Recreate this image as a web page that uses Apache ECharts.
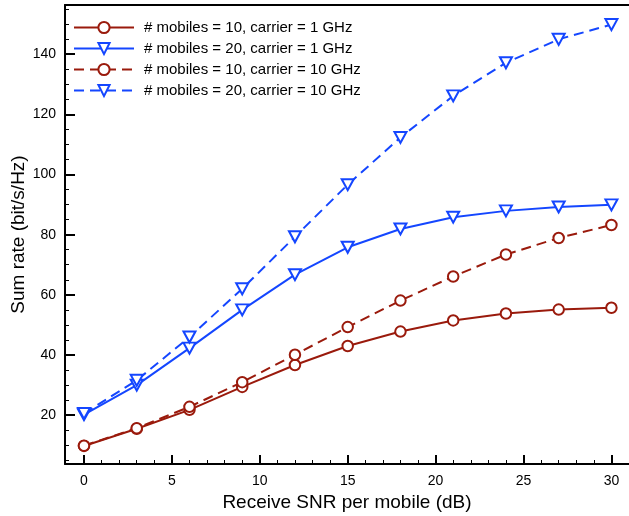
<!DOCTYPE html>
<html>
<head>
<meta charset="utf-8">
<script src="https://cdn.jsdelivr.net/npm/echarts@6/dist/echarts.min.js"></script>
<style>
html,body{margin:0;padding:0;background:#fff;}
#chart{width:629px;height:516px;}
</style>
</head>
<body>
<div id="chart"></div>
<script>
// ---- data ----
var snr = [0, 3, 6, 9, 12, 15, 18, 21, 24, 27, 30];
var rateM10_1GHz  = [9.8, 15.5, 21.8, 29.4, 36.7, 43.0, 47.8, 51.5, 53.8, 55.1, 55.7];
var rateM20_1GHz  = [20.2, 30.0, 42.3, 55.0, 66.7, 75.8, 81.9, 85.8, 87.9, 89.2, 89.9];
var rateM10_10GHz = [9.9, 15.7, 22.8, 31.0, 40.1, 49.3, 58.1, 66.1, 73.4, 78.9, 83.2];
var rateM20_10GHz = [20.6, 31.6, 46.0, 62.0, 79.3, 96.6, 112.3, 126.1, 137.1, 144.9, 149.8];
var seriesNames = [
  '# mobiles = 10, carrier = 1 GHz',
  '# mobiles = 20, carrier = 1 GHz',
  '# mobiles = 10, carrier = 10 GHz',
  '# mobiles = 20, carrier = 10 GHz'
];
var xTickLabels = [0, 5, 10, 15, 20, 25, 30];
var yTickLabels = [20, 40, 60, 80, 100, 120, 140];
var xMinorTicks = [1,2,3,4,6,7,8,9,11,12,13,14,16,17,18,19,21,22,23,24,26,27,28,29];
var yMinorTicks = [5,10,15,25,30,35,45,50,55,65,70,75,85,90,95,105,110,115,125,130,135,145,150,155];

var RED = '#9a1a0c', BLUE = '#1446ff';
var FONT = '"Liberation Sans", Arial, Helvetica, sans-serif';
var X_MIN = -1.08, X_MAX = 31, Y_MIN = 3.8, Y_MAX = 156.3;

function pairs(ys){ return snr.map(function(x,i){ return [x, ys[i]]; }); }

function mk(name, ys, color, dashed, tri){
  return {
    name: name, type: 'line', xAxisIndex: 0, yAxisIndex: 0,
    data: pairs(ys),
    symbol: tri ? 'triangle' : 'circle',
    symbolRotate: tri ? 180 : 0,
    symbolSize: tri ? [12, 11] : 10.5,
    showAllSymbol: true,
    lineStyle: { color: color, width: 2, type: dashed ? [10, 6] : 'solid' },
    itemStyle: { color: '#fff', borderColor: color, borderWidth: 2 },
    emphasis: { disabled: true },
    animation: false,
    z: tri ? 3 : 2
  };
}

var chart = echarts.init(document.getElementById('chart'), null, {renderer: 'canvas'});
chart.setOption({
  backgroundColor: '#fff',
  animation: false,
  textStyle: { fontFamily: FONT },
  grid: { left: 65, right: 0, top: 5, bottom: 52, containLabel: false, outerBoundsMode: 'none' },
  legend: {
    orient: 'vertical', left: 73, top: 20, padding: 0,
    itemWidth: 60, itemHeight: 14, itemGap: 6,
    textStyle: { fontFamily: FONT, fontSize: 15, color: '#000', padding: [0,0,0,5] },
    data: seriesNames
  },
  xAxis: [
    {
      type: 'value', position: 'bottom', min: X_MIN, max: X_MAX,
      name: 'Receive SNR per mobile (dB)', nameLocation: 'middle', nameGap: 29, nameMoveOverlap: false,
      nameTextStyle: { fontFamily: FONT, fontSize: 19, color: '#000' },
      axisLine: { show: true, onZero: false, lineStyle: { color: '#000', width: 2 } },
      axisTick: { show: true, inside: true, length: 9, customValues: xTickLabels, lineStyle: { color: '#000', width: 2 } },
      axisLabel: { show: true, customValues: xTickLabels, fontFamily: FONT, fontSize: 14, color: '#000', margin: 10 },
      splitLine: { show: false }
    },
    {
      type: 'value', position: 'bottom', min: X_MIN, max: X_MAX,
      axisLine: { show: false, onZero: false },
      axisTick: { show: true, inside: true, length: 4, customValues: xMinorTicks, lineStyle: { color: '#000', width: 1 } },
      axisLabel: { show: false },
      splitLine: { show: false }
    },
    {
      type: 'value', position: 'top', min: X_MIN, max: X_MAX,
      axisLine: { show: true, onZero: false, lineStyle: { color: '#000', width: 2 } },
      axisTick: { show: false }, axisLabel: { show: false }, splitLine: { show: false }
    }
  ],
  yAxis: [
    {
      type: 'value', position: 'left', min: Y_MIN, max: Y_MAX,
      name: 'Sum rate (bit/s/Hz)', nameLocation: 'middle', nameGap: 37, nameMoveOverlap: false,
      nameTextStyle: { fontFamily: FONT, fontSize: 19, color: '#000' },
      axisLine: { show: true, onZero: false, lineStyle: { color: '#000', width: 2 } },
      axisTick: { show: true, inside: true, length: 10, customValues: yTickLabels, lineStyle: { color: '#000', width: 2 } },
      axisLabel: { show: true, customValues: yTickLabels, fontFamily: FONT, fontSize: 14, color: '#000', margin: 9 },
      splitLine: { show: false }
    },
    {
      type: 'value', position: 'left', min: Y_MIN, max: Y_MAX,
      axisLine: { show: false, onZero: false },
      axisTick: { show: true, inside: true, length: 4, customValues: yMinorTicks, lineStyle: { color: '#000', width: 1 } },
      axisLabel: { show: false },
      splitLine: { show: false }
    }
  ],
  series: [
    mk(seriesNames[0], rateM10_1GHz, RED, false, false),
    mk(seriesNames[1], rateM20_1GHz, BLUE, false, true),
    mk(seriesNames[2], rateM10_10GHz, RED, true, false),
    mk(seriesNames[3], rateM20_10GHz, BLUE, true, true)
  ]
});
</script>
</body>
</html>
